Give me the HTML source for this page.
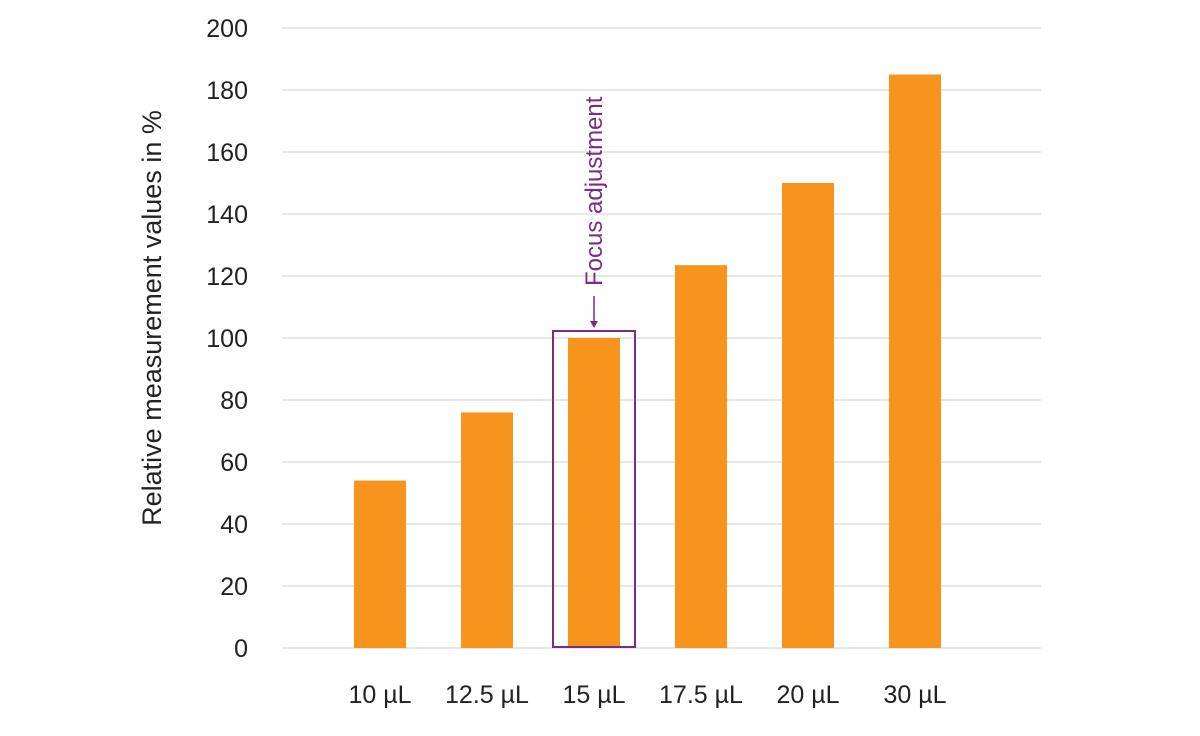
<!DOCTYPE html>
<html><head><meta charset="utf-8"><style>
html,body{margin:0;padding:0;background:#fff;}
svg{display:block;font-family:"Liberation Sans Narrow","Liberation Sans",sans-serif;}
</style></head><body>
<svg id="chart" width="1200" height="736" viewBox="0 0 1200 736" xmlns="http://www.w3.org/2000/svg">
<g id="grid"></g>
<g id="yticks"></g>
<g id="bars"></g>
<g id="xticks"></g>
<text transform="translate(161,318) rotate(-90)" text-anchor="middle" font-size="27" fill="#222">Relative measurement values in %</text>
<g id="annot"></g>
</svg>
<script>
const categories = ["10 µL","12.5 µL","15 µL","17.5 µL","20 µL","30 µL"];
const values = [54, 76, 100, 123.5, 150, 185];
const yTicks = [0,20,40,60,80,100,120,140,160,180,200];
const highlightIndex = 2;
const NS="http://www.w3.org/2000/svg";
const y0=648, y1=28, yMax=200, xL=282, xR=1041;
const firstCenter=380, step=107, barW=52;
function y(v){return y0-(v/yMax)*(y0-y1);}
function xc(i){return firstCenter+i*step;}
function mk(tag,attrs,parent){const e=document.createElementNS(NS,tag);for(const k in attrs)e.setAttribute(k,attrs[k]);parent.appendChild(e);return e;}
const grid=document.getElementById('grid'),yt=document.getElementById('yticks'),bars=document.getElementById('bars'),xt=document.getElementById('xticks'),an=document.getElementById('annot');
yTicks.forEach(t=>{
  const l=mk('line',{x1:xL,x2:xR,y1:y(t),y2:y(t),stroke:'#cfcfcf','stroke-width':1},grid);
  
  
  const tx=mk('text',{x:248,y:y(t)+9,'text-anchor':'end','font-size':25,fill:'#222'},yt);
  tx.textContent=t;
  
  
});
categories.forEach((c,i)=>{
  const r=mk('rect',{x:xc(i)-barW/2,y:y(values[i]),width:barW,height:y(0)-y(values[i]),fill:'#f7941d'},bars);
  
  
  const tx=mk('text',{x:xc(i),y:703,'text-anchor':'middle','font-size':25,fill:'#222'},xt);
  tx.textContent=c;
  
  
});
const hx=xc(highlightIndex), hy=y(values[highlightIndex]);
const box=mk('rect',{x:hx-41,y:hy-7,width:82,height:y(0)-hy+6,fill:'none',stroke:'#7b2b83','stroke-width':2},an);


const ln=mk('line',{x1:hx,x2:hx,y1:hy-42,y2:hy-15,stroke:'#7b2b83','stroke-width':1.5},an);


const ah=mk('polygon',{points:`${hx-4},${hy-17} ${hx+4},${hy-17} ${hx},${hy-10}`,fill:'#7b2b83'},an);


const at=mk('text',{transform:`translate(${hx+8},${hy-52}) rotate(-90)`,'text-anchor':'start','font-size':24,fill:'#7b2b83'},an);
at.textContent='Focus adjustment';


</script>
</body></html>
